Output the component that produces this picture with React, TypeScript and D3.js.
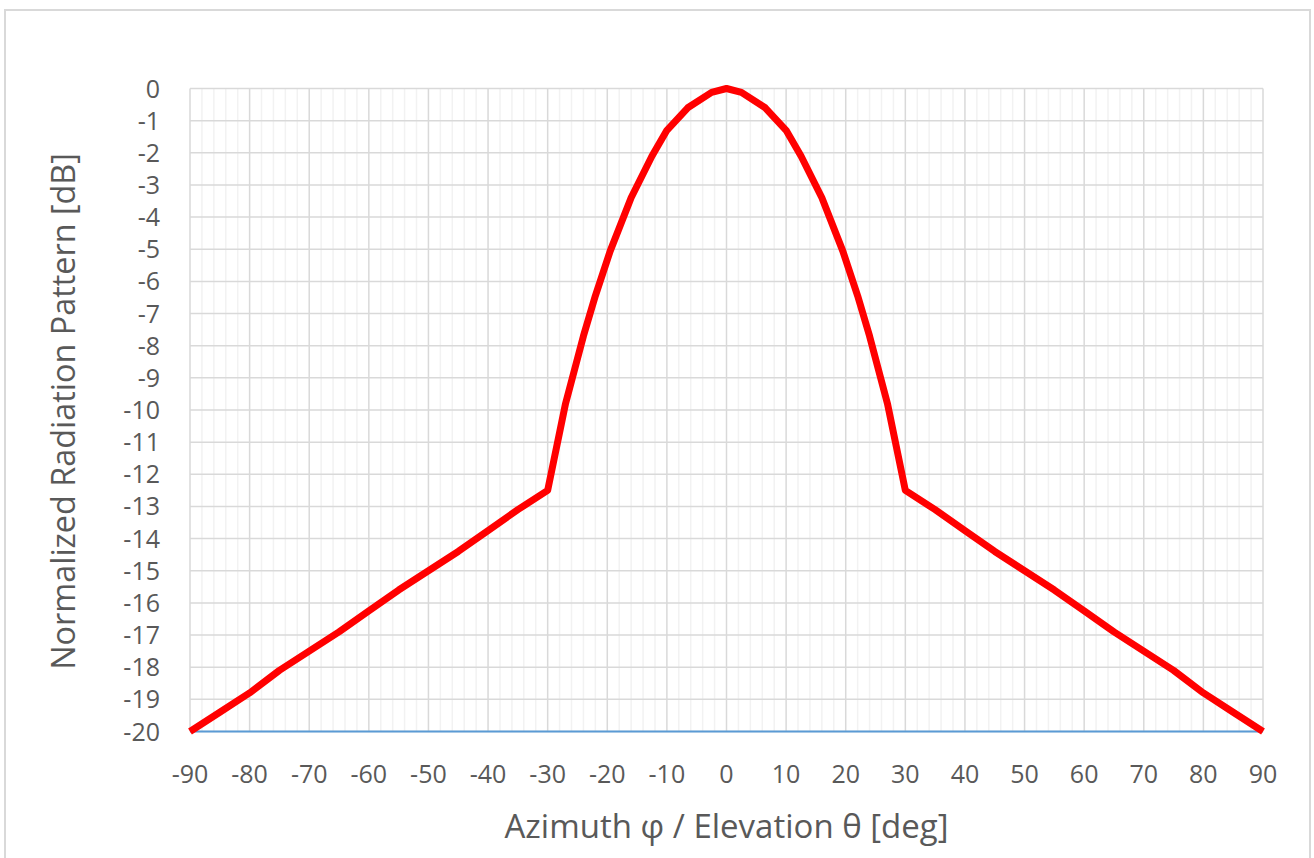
import React from "react";
import * as d3 from "d3";

// Side-lobe and main-lobe samples (deg, dB)
const angles: number[] = [
  -90, -85, -80, -75, -70, -65, -60, -55, -50, -45, -40, -35, -30,
  -27, -24, -22, -19.5, -16, -12.5, -10, -6.5, -2.5, 0,
  2.5, 6.5, 10, 12.5, 16, 19.5, 22, 24, 27, 30,
  35, 40, 45, 50, 55, 60, 65, 70, 75, 80, 85, 90,
];
const pattern: number[] = [
  -20, -19.4, -18.8, -18.1, -17.5, -16.9, -16.25, -15.6, -15.0, -14.4, -13.75, -13.1, -12.5,
  -9.8, -7.7, -6.45, -5.05, -3.4, -2.1, -1.3, -0.6, -0.12, 0,
  -0.12, -0.6, -1.3, -2.1, -3.4, -5.05, -6.45, -7.7, -9.8, -12.5,
  -13.1, -13.75, -14.4, -15.0, -15.6, -16.25, -16.9, -17.5, -18.1, -18.8, -19.4, -20,
];
const xTicks: number[] = [-90, -80, -70, -60, -50, -40, -30, -20, -10, 0, 10, 20, 30, 40, 50, 60, 70, 80, 90];
const yTicks: number[] = d3.range(0, -21, -1);
const xTitle = "Azimuth φ / Elevation θ [deg]";
const yTitle = "Normalized Radiation Pattern [dB]";

const W = 1314;
const H = 858;
const left = 190;
const right = 1263;
const top = 88.5;
const bottom = 731.5;
const FONT = "'Open Sans', sans-serif";
const TEXT = "#595959";

export default function App() {
  const x = d3.scaleLinear().domain([-90, 90]).range([left, right]);
  const y = d3.scaleLinear().domain([-20, 0]).range([bottom, top]);
  const minorX = d3.range(-90, 91, 2).filter((v) => v % 10 !== 0);
  const line = d3
    .line<number>()
    .x((_, i) => x(angles[i]))
    .y((d) => y(d));

  return (
    <svg
      width={W}
      height={H}
      style={{ position: "absolute", left: 0, top: 0, background: "#fff" }}
    >
      <rect x={5} y={10} width={1305} height={860} fill="#fff" stroke="#d9d9d9" strokeWidth={2} />
      {minorX.map((v) => (
        <line key={"mx" + v} x1={x(v)} x2={x(v)} y1={top} y2={bottom} stroke="#f2f2f2" strokeWidth={1.5} />
      ))}
      {yTicks.map((v) => (
        <line key={"gy" + v} x1={left} x2={right} y1={y(v)} y2={y(v)} stroke="#d9d9d9" strokeWidth={1.5} />
      ))}
      {xTicks.map((v) => (
        <line key={"gx" + v} x1={x(v)} x2={x(v)} y1={top} y2={bottom} stroke="#d9d9d9" strokeWidth={1.5} />
      ))}
      <line x1={left} x2={right} y1={y(-20)} y2={y(-20)} stroke="#5b9bd5" strokeWidth={2} />
      <path d={line(pattern) || ""} fill="none" stroke="#ff0000" strokeWidth={7} strokeLinejoin="round" />
      {yTicks.map((v) => (
        <text key={"ty" + v} x={160} y={y(v)} dy="0.36em" textAnchor="end" fontFamily={FONT} fontSize={25} fill={TEXT}>
          {v}
        </text>
      ))}
      {xTicks.map((v) => (
        <text key={"tx" + v} x={x(v)} y={783} textAnchor="middle" fontFamily={FONT} fontSize={25} fill={TEXT}>
          {v}
        </text>
      ))}
      <text x={(left + right) / 2} y={838} textAnchor="middle" fontFamily={FONT} fontSize={33} fill={TEXT}>
        {xTitle}
      </text>
      <text
        transform={`translate(75, 411.5) rotate(-90)`}
        textAnchor="middle"
        fontFamily={FONT}
        fontSize={32.4}
        fill={TEXT}
      >
        {yTitle}
      </text>
    </svg>
  );
}
